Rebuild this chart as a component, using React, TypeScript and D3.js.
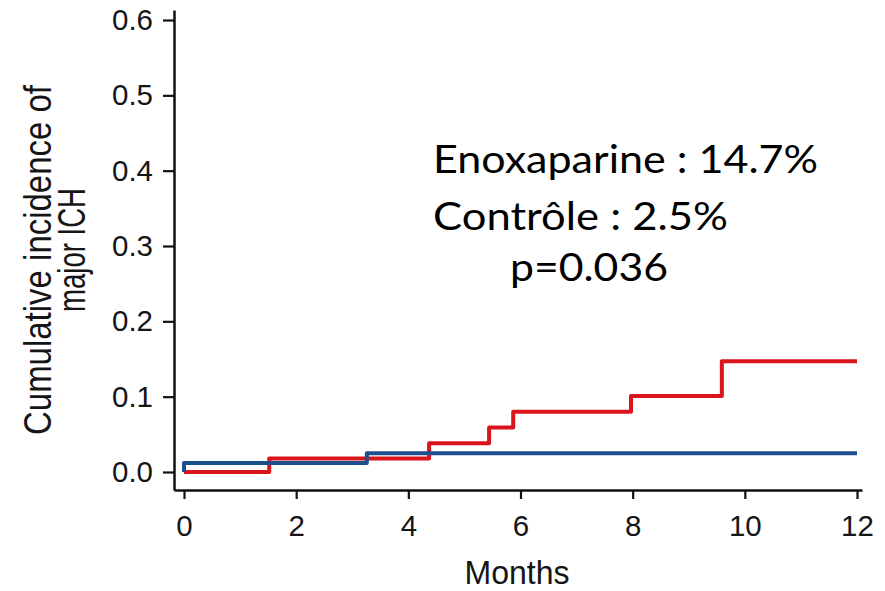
import { useEffect, useRef } from "react";
import * as d3 from "d3";

/** ---- Data ---- **/
// Kaplan-Meier style cumulative incidence, [months, value]
const enoxaparine: [number, number][] = [
  [0, 0],
  [1.52, 0.018],
  [4.37, 0.038],
  [5.44, 0.059],
  [5.87, 0.08],
  [7.97, 0.101],
  [9.59, 0.147],
  [12, 0.147],
];
const controle: [number, number][] = [
  [0, 0],
  [0, 0.012],
  [3.26, 0.025],
  [12, 0.025],
];
const xTicks = [0, 2, 4, 6, 8, 10, 12];
const yTicks = [0, 0.1, 0.2, 0.3, 0.4, 0.5, 0.6];
const annotation = ["Enoxaparine : 14.7%", "Contrôle : 2.5%", "p=0.036"];
const yTitle = ["Cumulative incidence of", "major ICH"];
const xTitle = "Months";

const W = 885;
const H = 591;

export default function App() {
  const svgRef = useRef<SVGSVGElement>(null);

  useEffect(() => {
    const svg = d3.select(svgRef.current);
    svg.selectAll("*").remove();

    // plot scales (data -> pixels)
    const x = d3.scaleLinear().domain([0, 12]).range([184, 857]);
    const y = d3.scaleLinear().domain([0, 0.6]).range([472, 20]);

    // axis scales stretched a little past the data, R style
    const xAxisScale = d3.scaleLinear().domain([x.invert(174), x.invert(862)]).range([174, 862]);
    const yAxisScale = d3.scaleLinear().domain([y.invert(490), y.invert(10)]).range([490, 10]);

    const axisFont = "'Liberation Sans', Arial, sans-serif";

    // y axis
    const gy = svg.append("g").attr("transform", "translate(174,0)")
      .call(d3.axisLeft(yAxisScale).tickValues(yTicks).tickFormat(d3.format(".1f")).tickSize(11).tickSizeOuter(0).tickPadding(10));
    // x axis
    const gx = svg.append("g").attr("transform", "translate(0,490)")
      .call(d3.axisBottom(xAxisScale).tickValues(xTicks).tickFormat(d3.format("d")).tickSize(9).tickSizeOuter(0).tickPadding(16));

    [gy, gx].forEach(g => {
      g.select(".domain").attr("stroke", "#111").attr("stroke-width", 2.5);
      g.selectAll(".tick line").attr("stroke", "#111").attr("stroke-width", 2.2);
      g.selectAll(".tick text")
        .attr("font-family", axisFont)
        .attr("font-size", 29.5)
        .attr("fill", "#151515");
    });

    // step curves
    const line = d3.line<[number, number]>()
      .x(d => x(d[0]))
      .y(d => y(d[1]))
      .curve(d3.curveStepAfter);

    svg.append("path")
      .datum(enoxaparine)
      .attr("fill", "none")
      .attr("stroke", "#d9151b")
      .attr("stroke-width", 4)
      .attr("stroke-linejoin", "round")
      .attr("d", line);

    svg.append("path")
      .datum(controle)
      .attr("fill", "none")
      .attr("stroke", "#1d4e8d")
      .attr("stroke-width", 4)
      .attr("stroke-linejoin", "round")
      .attr("d", line);

    // axis titles (condensed look of the original)
    svg.append("text")
      .attr("x", 517).attr("y", 584)
      .attr("text-anchor", "middle")
      .attr("font-family", axisFont)
      .attr("font-size", 33)
      .attr("textLength", 105)
      .attr("lengthAdjust", "spacingAndGlyphs")
      .attr("fill", "#151515")
      .text(xTitle);

    const yt = svg.append("g").attr("transform", "rotate(-90)");
    yt.append("text")
      .attr("x", -260).attr("y", 51)
      .attr("text-anchor", "middle")
      .attr("font-family", axisFont)
      .attr("font-size", 38)
      .attr("textLength", 350)
      .attr("lengthAdjust", "spacingAndGlyphs")
      .attr("fill", "#151515")
      .text(yTitle[0]);
    yt.append("text")
      .attr("x", -250).attr("y", 85)
      .attr("text-anchor", "middle")
      .attr("font-family", axisFont)
      .attr("font-size", 38)
      .attr("textLength", 124)
      .attr("lengthAdjust", "spacingAndGlyphs")
      .attr("fill", "#151515")
      .text(yTitle[1]);

    // annotation block
    const notes = [
      { x: 433, y: 173, len: 385 },
      { x: 433, y: 230, len: 295 },
      { x: 510, y: 281, len: 158 },
    ];
    annotation.forEach((t, i) => {
      svg.append("text")
        .attr("x", notes[i].x).attr("y", notes[i].y)
        .attr("font-family", "Lato, 'Open Sans', sans-serif")
        .attr("font-size", 39)
        .attr("textLength", notes[i].len)
        .attr("lengthAdjust", "spacingAndGlyphs")
        .attr("fill", "#000")
        .text(t);
    });
  }, []);

  return (
    <div style={{ position: "absolute", left: 0, top: 0, width: W, height: H, background: "#fff" }}>
      <svg ref={svgRef} width={W} height={H} />
    </div>
  );
}
